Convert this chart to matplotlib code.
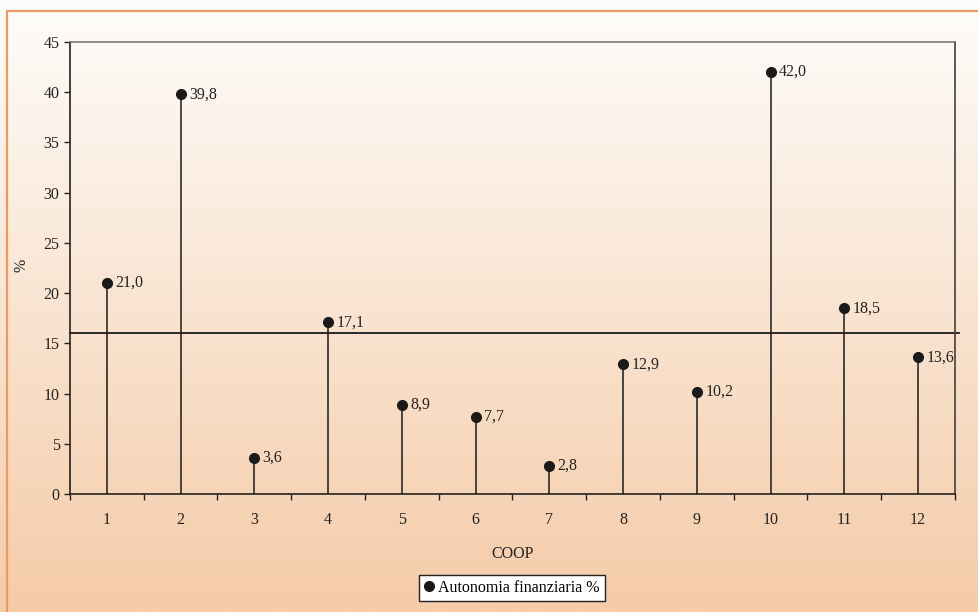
import numpy as np
from matplotlib import pyplot as plt
from matplotlib.patches import Rectangle

# Autonomia finanziaria per cooperativa
coop = [1, 2, 3, 4, 5, 6, 7, 8, 9, 10, 11, 12]
autonomia = [21.0, 39.8, 3.6, 17.1, 8.9, 7.7, 2.8, 12.9, 10.2, 42.0, 18.5, 13.6]
media = 16.0
y_ticks = [0, 5, 10, 15, 20, 25, 30, 35, 40, 45]

plt.rcParams['font.family'] = ['Liberation Serif', 'DejaVu Serif']
FS = 11.5

W, H = 979, 612
fig = plt.figure(figsize=(W / 100, H / 100), dpi=100)

# Gradient background (white at top, peach at bottom)
bg = fig.add_axes([0, 0, 1, 1], zorder=-10)
top = np.array([254, 253, 251]) / 255
bot = np.array([245, 203, 168]) / 255
t = np.linspace(0, 1, 256)[:, None]
grad = top * (1 - t) + bot * t
bg.imshow(grad[:, None, :], aspect='auto', extent=[0, 1, 0, 1])
bg.axis('off')

# Orange frame (only top and left visible)
fig.add_artist(Rectangle((7 / W, -0.2), 1.5, 1 - 11 / H + 0.2, transform=fig.transFigure,
                         fill=False, edgecolor='#eb9a62', lw=1.6))

x0, x1, y0, y1 = 70, 955, 42, 494
ax = fig.add_axes([x0 / W, 1 - y1 / H, (x1 - x0) / W, (y1 - y0) / H])
ax.set_facecolor('none')

ax.vlines(coop, 0, autonomia, color='#1a1a1a', lw=1.1)
ax.plot(coop, autonomia, 'o', color='#1a1a1a', ms=7, label='Autonomia finanziaria %', clip_on=False)
for xi, v in zip(coop, autonomia):
    ax.annotate(f'{v:.1f}'.replace('.', ','), (xi, v), xytext=(6, 0), textcoords='offset points',
                va='center', ha='left', fontsize=FS, color='#222222')

ax.axhline(media, xmin=0, xmax=1.004, color='#1a1a1a', lw=1.3, clip_on=False)

ax.set_xlim(0.5, 12.5)
ax.set_ylim(0, 45)
ax.set_yticks(y_ticks)
ax.set_xticks(np.arange(0.5, 13, 1))
ax.set_xticklabels([])
ax.set_xticks(coop, minor=True)
ax.set_xticklabels([str(c) for c in coop], minor=True)
ax.tick_params(axis='x', which='major', length=4, direction='out', width=1, color='#222222')
ax.tick_params(axis='x', which='minor', length=0, pad=13, labelsize=FS, labelcolor='#222222')
ax.tick_params(axis='y', length=4, direction='out', width=1, labelsize=FS, labelcolor='#222222', color='#222222')

ax.spines['left'].set_color('#222222')
ax.spines['bottom'].set_color('#222222')
ax.spines['right'].set_color('#404040')
ax.spines['top'].set_color('#7a7a7a')
for s in ax.spines.values():
    s.set_linewidth(1.2)

ax.set_xlabel('COOP', fontsize=FS, labelpad=13, color='#222222')
fig.text(22 / W, 1 - 265 / H, '%', rotation=90, ha='center', va='center', fontsize=FS, color='#222222')

leg = ax.legend(loc='center', bbox_to_anchor=(512 / W, 1 - 588 / H), bbox_transform=fig.transFigure,
                frameon=True, fancybox=False, fontsize=FS, handlelength=0.6, handletextpad=0.3,
                borderpad=0.3, markerscale=1.0)
leg.get_frame().set_edgecolor('#222222')
leg.get_frame().set_facecolor('white')
leg.get_frame().set_linewidth(1)
leg.get_frame().set_alpha(1)

fig.savefig('out.png', dpi=100)
